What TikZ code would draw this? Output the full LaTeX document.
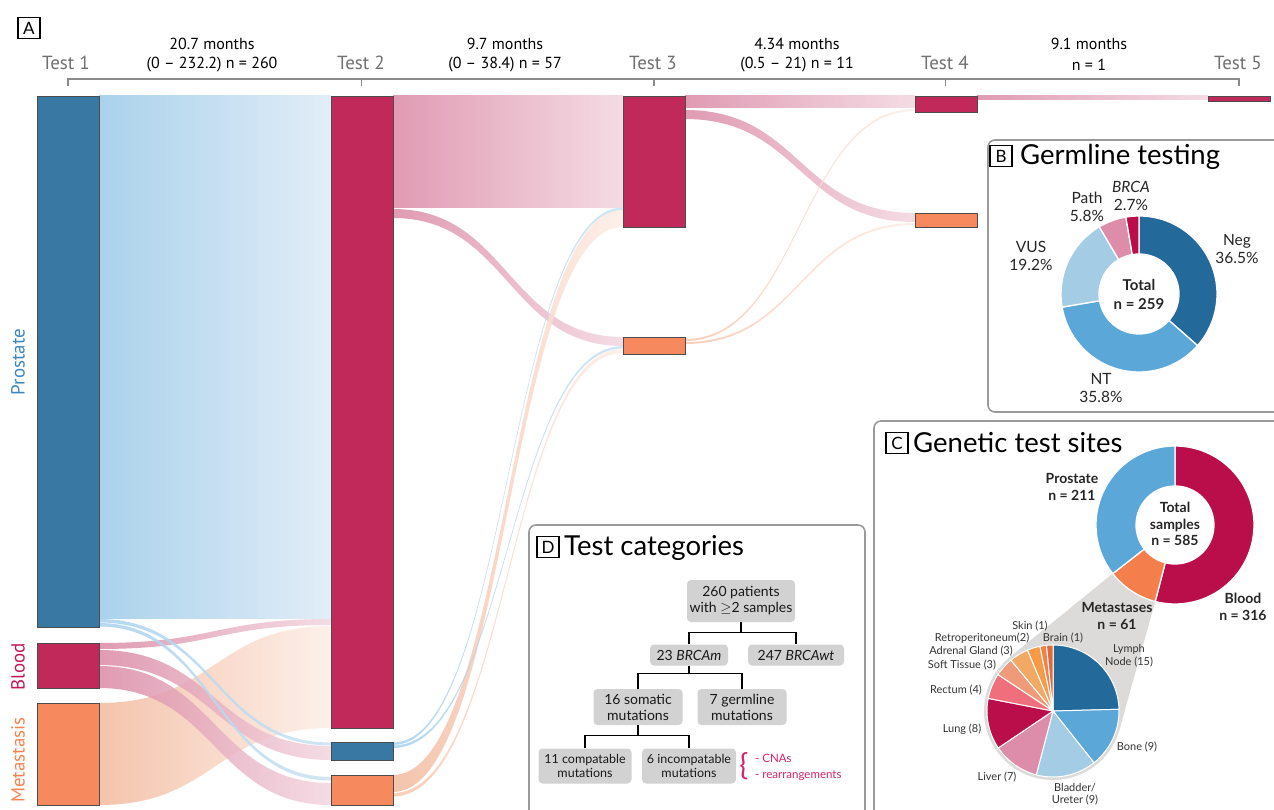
\documentclass[tikz,border=0pt]{standalone}
\usepackage{fontspec}
\setmainfont{Lato}
\newfontfamily\hdr{PT Sans}
\usetikzlibrary{calc}
\pgfdeclarelayer{bg}
\pgfsetlayers{bg,main}

\definecolor{cPbar}{HTML}{3A78A4}
\definecolor{cBbar}{HTML}{C0295A}
\definecolor{cMbar}{HTML}{F7895F}
\definecolor{blueL}{HTML}{9CCAE9}
\definecolor{blueR}{HTML}{DDEBF6}
\definecolor{blueT}{HTML}{A8D2EE}
\definecolor{blueT2}{HTML}{C9E2F3}
\definecolor{pinkL}{HTML}{DB8AA6}
\definecolor{pinkR}{HTML}{F3D6E0}
\definecolor{peachL}{HTML}{F3BA9E}
\definecolor{peachR}{HTML}{FDEEE7}
\definecolor{peachT}{HTML}{F7C7AE}
\definecolor{axisgrey}{HTML}{8A8A8A}
\definecolor{labgrey}{HTML}{707070}
\definecolor{lblBlue}{HTML}{3C87BF}
\definecolor{lblRed}{HTML}{C2185B}
\definecolor{lblOrange}{HTML}{F58452}
\definecolor{cNeg}{HTML}{23699A}
\definecolor{cNT}{HTML}{5AA7D8}
\definecolor{cVUS}{HTML}{A5CCE5}
\definecolor{cPath}{HTML}{DD8DAA}
\definecolor{cBRCA}{HTML}{B90E4A}
\definecolor{cMet}{HTML}{F57E4D}
\definecolor{cRect}{HTML}{F06F7C}
\definecolor{cSoft}{HTML}{EE9A7B}
\definecolor{cAdr}{HTML}{F1A965}
\definecolor{cRetro}{HTML}{F79A47}
\definecolor{cSkin}{HTML}{F57F4A}
\definecolor{cBrain}{HTML}{E06A37}
\definecolor{halo}{HTML}{DCDBD9}
\definecolor{panelgrey}{HTML}{9A9A9A}
\definecolor{treegrey}{HTML}{D2D2D2}
\definecolor{magentaT}{HTML}{D4246C}

% flow band: src node, src top off, src bottom off, dst node, dst top off, dst bottom off, left colour, right colour
\newcommand\flowband[8]{%
  \shade[left color=#7,right color=#8,fill opacity=0.85]
   let \p1=(#1.north east), \p2=(#4.north west), \p3=($(\p1)!0.5!(\p2)$) in
   (\x1,\y1-#2pt) .. controls (\x3,\y1-#2pt) and (\x3,\y2-#5pt) .. (\x2,\y2-#5pt)
   -- (\x2,\y2-#6pt) .. controls (\x3,\y2-#6pt) and (\x3,\y1-#3pt) .. (\x1,\y1-#3pt) -- cycle;}
% annular segment: Rout, Rin, start, end, colour
\newcommand\annseg[5]{%
  \fill[#5,draw=white,line width=1.3pt] (#3:#1) arc[start angle=#3,end angle=#4,radius=#1]
   -- (#4:#2) arc[start angle=#4,end angle=#3,radius=#2] -- cycle;}
% pie segment
\newcommand\pieseg[3]{%
  \fill[#3,draw=white,line width=1pt] (0,0) -- (#1:66pt) arc[start angle=#1,end angle=#2,radius=66pt] -- cycle;}

\begin{document}
\begin{tikzpicture}[x=1pt,y=-1pt,
 bar/.style={draw=black!70, line width=0.8pt, inner sep=0pt, outer sep=0pt, anchor=north west, minimum width=62pt},
 testlab/.style={font=\hdr\fontsize{19}{20}\selectfont, text=labgrey, inner sep=0pt},
 ivl/.style={font=\hdr\fontsize{16}{17}\selectfont, inner sep=0pt},
 sidelab/.style={font=\hdr\fontsize{19}{20}\selectfont, rotate=90, inner sep=0pt},
 letterbox/.style={draw=black, line width=1.1pt, minimum width=22pt, minimum height=21pt, inner sep=0pt, font=\fontsize{17}{17}\selectfont},
 ptitle/.style={anchor=west, inner sep=0pt, font=\fontsize{27.5}{29}\selectfont},
 panel/.style={draw=panelgrey, line width=1.6pt, rounded corners=7pt, fill=white},
 donutlab/.style={align=center, inner sep=0pt, font=\fontsize{15.5}{18}\selectfont, text=black!85},
 clab/.style={align=center, inner sep=0pt, font=\bfseries\fontsize{14}{16.5}\selectfont, text=black!85},
 pielab/.style={inner sep=0pt, align=center, font=\fontsize{11}{12.5}\selectfont, text=black!80},
 tnode/.style={fill=treegrey, rounded corners=4pt, align=center, inner sep=1pt, font=\fontsize{14}{16}\selectfont, text=black!90},
 tline/.style={draw=black, line width=1.3pt},
 cnalab/.style={anchor=west, text=magentaT, font=\fontsize{11.5}{13}\selectfont, inner sep=0pt},
]
\useasboundingbox (0,0) rectangle (1274,810);
\begin{pgfonlayer}{bg}
\fill[white] (0,0) rectangle (1274,810);
\end{pgfonlayer}

% ---------- bars ----------
\node[bar, fill=cPbar, minimum height=531pt] (t1p) at (37,96) {};
\node[bar, fill=cBbar, minimum height=45pt] (t1b) at (37,643) {};
\node[bar, fill=cMbar, minimum height=102pt] (t1m) at (37,703) {};
\node[bar, fill=cBbar, minimum height=632pt] (t2b) at (331,96) {};
\node[bar, fill=cPbar, minimum height=18pt] (t2p) at (331,742) {};
\node[bar, fill=cMbar, minimum height=30pt] (t2m) at (331,775) {};
\node[bar, fill=cBbar, minimum height=131pt] (t3b) at (623,96) {};
\node[bar, fill=cMbar, minimum height=17pt] (t3m) at (623,337) {};
\node[bar, fill=cBbar, minimum height=16pt] (t4b) at (915,96) {};
\node[bar, fill=cMbar, minimum height=14pt] (t4m) at (915,213) {};
\node[bar, fill=cBbar, minimum height=5pt] (t5b) at (1208,96) {};

% ---------- flows ----------
\begin{pgfonlayer}{bg}
\flowband{t1p}{0}{522}{t2b}{0}{522}{blueL}{blueR}
\flowband{t1m}{0}{102}{t2b}{530}{632}{peachL}{peachR}
\flowband{t1b}{0}{6}{t2b}{523}{529}{pinkL}{pinkR}
\flowband{t1b}{7}{22}{t2p}{4}{18}{pinkL}{pinkR}
\flowband{t1b}{23}{45}{t2m}{8}{30}{pinkL}{pinkR}
\flowband{t1p}{523}{526.5}{t2p}{0.5}{3.5}{blueT}{blueT2}
\flowband{t1p}{527}{530.5}{t2m}{2}{5.5}{blueT}{blueT2}
\flowband{t2b}{0}{112}{t3b}{0}{112}{pinkL}{pinkR}
\flowband{t2b}{113}{122}{t3m}{0}{9}{pinkL}{pinkR}
\flowband{t2m}{0}{17}{t3b}{114}{131}{peachL}{peachR}
\flowband{t2p}{0.5}{3}{t3b}{111.5}{114}{blueT}{blueT2}
\flowband{t2p}{3.5}{6}{t3m}{9}{11.5}{blueT}{blueT2}
\flowband{t2m}{18}{21.5}{t3m}{12}{16}{peachT}{peachR}
\flowband{t3b}{0}{12}{t4b}{0}{12}{pinkL}{pinkR}
\flowband{t3b}{14}{23}{t4m}{0}{9}{pinkL}{pinkR}
\flowband{t3m}{2}{4}{t4b}{13}{15}{peachT}{peachR}
\flowband{t3m}{5}{7}{t4m}{10}{12}{peachT}{peachR}
\flowband{t4b}{0}{4}{t5b}{0}{4}{pinkL}{pinkR}
\end{pgfonlayer}

% ---------- header ----------
\node[letterbox] (la) at (29,28) {A};
\node[testlab] (h1) at (66,63) {Test 1};
\node[testlab] (h2) at (361,63) {Test 2};
\node[testlab] (h3) at (653,63) {Test 3};
\node[testlab] (h4) at (945,63) {Test 4};
\node[testlab] (h5) at (1238,63) {Test 5};
\draw[axisgrey, line width=1.2pt] (68,86) -- (68,79) -- (1239,79) -- (1239,86);
\foreach \tx in {361.5,654,945.5} \draw[axisgrey, line width=1.2pt] (\tx,79) -- (\tx,86);
\node[ivl] (i1a) at (212,44) {20.7 months};
\node[ivl] (i1b) at (212,65) {(0 – 232.2) n = 260};
\node[ivl] (i2a) at (505,44) {9.7 months};
\node[ivl] (i2b) at (505,65) {(0 – 38.4) n = 57};
\node[ivl] (i3a) at (797,44) {4.34 months};
\node[ivl] (i3b) at (797,65) {(0.5 – 21) n = 11};
\node[ivl] (i4a) at (1089,44) {9.1 months};
\node[ivl] (i4b) at (1089,65) {n = 1};

% ---------- side labels ----------
\node[sidelab, text=lblBlue] (sp) at (18,362) {Prostate};
\node[sidelab, text=lblRed] (sb) at (18,667) {Blood};
\node[sidelab, text=lblOrange] (sm) at (18,760) {Metastasis};

% ---------- panel B ----------
\draw[panel] (988,140) rectangle (1300,412);
\node[letterbox] (lb) at (1001,156) {B};
\node[ptitle] (tb) at (1020,157) {Germline testing};
\begin{scope}[shift={(1139,294)}]
\annseg{78pt}{40pt}{90}{-41.4}{cNeg}
\annseg{78pt}{40pt}{-41.4}{-170.3}{cNT}
\annseg{78pt}{40pt}{-170.3}{-239.4}{cVUS}
\annseg{78pt}{40pt}{-239.4}{-260.3}{cPath}
\annseg{78pt}{40pt}{-260.3}{-270}{cBRCA}
\end{scope}
\node[donutlab] (bneg) at (1237,249) {Neg\\36.5\%};
\node[donutlab] (bnt) at (1101,388) {NT\\35.8\%};
\node[donutlab] (bvus) at (1031,256) {VUS\\19.2\%};
\node[donutlab] (bpath) at (1087,207) {Path\\5.8\%};
\node[donutlab] (bbrca) at (1131,196) {\textit{BRCA}\\2.7\%};
\node[donutlab, font=\bfseries\fontsize{15}{19}\selectfont] (btot) at (1139,294) {Total\\n = 259};

% ---------- panel C ----------
\draw[panel] (874,421) rectangle (1300,830);
\node[letterbox] (lc) at (897,443) {C};
\node[ptitle] (tc) at (913,443) {Genetic test sites};
\fill[halo] (1112.7,573.6) -- (1009.5,657.4) -- (1053,711) -- (1119.5,729.6) -- (1155.2,601.5) -- cycle;
\fill[halo] (1053,711) circle[radius=69pt];
\begin{scope}[shift={(1175,525)}]
\annseg{79pt}{39pt}{90}{-104.5}{cBRCA}
\annseg{79pt}{39pt}{-104.5}{-142}{cMet}
\annseg{79pt}{39pt}{-142}{-270}{cNT}
\end{scope}
\begin{scope}[shift={(1053,711)}]
\pieseg{90}{1.5}{cNeg}
\pieseg{1.5}{-51.6}{cNT}
\pieseg{-51.6}{-104.7}{cVUS}
\pieseg{-104.7}{-146}{cPath}
\pieseg{-146}{-191}{cBRCA}
\pieseg{-191}{-213.5}{cRect}
\pieseg{-213.5}{-230.4}{cSoft}
\pieseg{-230.4}{-247.3}{cAdr}
\pieseg{-247.3}{-258.6}{cRetro}
\pieseg{-258.6}{-264.3}{cSkin}
\pieseg{-264.3}{-270}{cBrain}
\end{scope}
\node[clab] (cpro) at (1072,487) {Prostate\\n = 211};
\node[clab] (ctot) at (1175,524) {Total\\samples\\n = 585};
\node[clab] (cblo) at (1243,607) {Blood\\n = 316};
\node[clab] (cmet) at (1117,616) {Metastases\\n = 61};
\node[pielab] (pskin) at (1030,626) {Skin (1)};
\node[pielab] (pretro) at (982,638) {Retroperitoneum(2)};
\node[pielab] (pbrain) at (1063,638) {Brain (1)};
\node[pielab] (padr) at (971,651) {Adrenal Gland (3)};
\node[pielab] (psoft) at (962,665) {Soft Tissue (3)};
\node[pielab] (prect) at (956,690) {Rectum (4)};
\node[pielab] (plung) at (962,729) {Lung (8)};
\node[pielab] (pliver) at (997,777) {Liver (7)};
\node[pielab] (pblad) at (1075,794) {Bladder/\\Ureter (9)};
\node[pielab] (pbone) at (1137,747) {Bone (9)};
\node[pielab] (plymph) at (1129,656) {Lymph\\Node (15)};

% ---------- panel D ----------
\draw[panel] (529,525) rectangle (865,830);
\node[letterbox] (ld) at (548,547) {D};
\node[ptitle] (td) at (564,548) {Test categories};
\node[tnode, minimum width=108pt, minimum height=42pt] (root) at (741,601) {260 patients\\with $\geq$2 samples};
\node[tnode, minimum width=78pt, minimum height=21pt] (brcam) at (689,655) {23 \textit{BRCAm}};
\node[tnode, minimum width=96pt, minimum height=21pt] (brcawt) at (796,655) {247 \textit{BRCAwt}};
\node[tnode, minimum width=89pt, minimum height=36pt] (som) at (638,707) {16 somatic\\mutations};
\node[tnode, minimum width=89pt, minimum height=36pt] (germ) at (742,707) {7 germline\\mutations};
\node[tnode, minimum width=93pt, minimum height=35pt, font=\fontsize{12.5}{14.5}\selectfont] (comp) at (585,766) {11 compatable\\mutations};
\node[tnode, minimum width=94pt, minimum height=35pt, font=\fontsize{12.5}{14.5}\selectfont] (incomp) at (689,766) {6 incompatable\\mutations};
\draw[tline] (root.south) -- ++(0,10) coordinate (j1);
\draw[tline] (brcam.north) |- (j1) -| (brcawt.north);
\draw[tline] (brcam.south) -- ++(0,7.5) coordinate (j2);
\draw[tline] (som.north) |- (j2) -| (germ.north);
\draw[tline] (som.south) -- ++(0,10.5) coordinate (j3);
\draw[tline] (comp.north) |- (j3) -| (incomp.north);
\node[text=magentaT, font=\fontsize{30}{30}\selectfont, inner sep=0pt] (brace) at (744,766) {\{};
\node[cnalab] (cna1) at (755,758) {- CNAs};
\node[cnalab] (cna2) at (755,776) {- rearrangements};
\end{tikzpicture}
\end{document}
